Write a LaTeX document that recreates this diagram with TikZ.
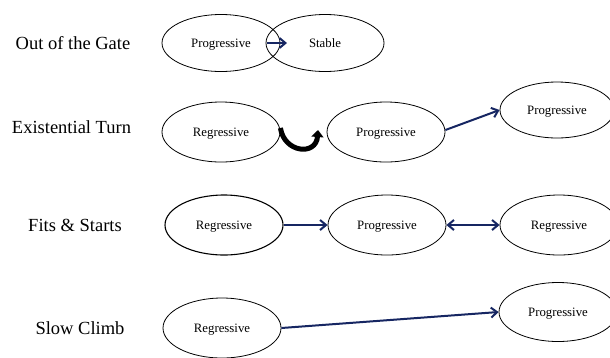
\documentclass[tikz,border=0pt]{standalone}
\usepackage{fontspec}
\setmainfont{Liberation Serif}
\usetikzlibrary{arrows.meta,shapes.geometric}
\definecolor{navy}{RGB}{22,38,98}
\begin{document}
\begin{tikzpicture}[x=1pt,y=-1pt,
  oval/.style={draw=black, line width=0.8pt, ellipse, minimum width=118pt, minimum height=59pt, inner sep=0pt, text depth=0pt, font=\fontsize{12.8}{14}\selectfont},
  rowlabel/.style={font=\fontsize{18.5}{22}\selectfont},
  conn/.style={draw=navy, line width=2pt, -{Straight Barb[length=6pt,width=10pt]}},
  dconn/.style={draw=navy, line width=2pt, {Straight Barb[length=6pt,width=10pt]}-{Straight Barb[length=6pt,width=10pt]}}]
\useasboundingbox (0,0) rectangle (610,357);
\fill[white] (0,0) rectangle (610,357);
% row labels
\node[rowlabel] (l1) at (73,43) {Out of the Gate};
\node[rowlabel] (l2) at (71.5,127) {Existential Turn};
\node[rowlabel] (l3) at (75,225) {Fits \& Starts};
\node[rowlabel] (l4) at (80,328) {Slow Climb};
% row 1
\node[oval, minimum height=57pt] (a1) at (221,43) {Progressive};
\node[oval, minimum height=57pt] (a2) at (325,43) {Stable};
\draw[conn] (267,43) -- (287,43);
% row 2
\node[oval, minimum height=60pt] (b1) at (221,132) {Regressive};
\node[oval, minimum height=60pt] (b2) at (386,132) {Progressive};
\node[oval, minimum width=114pt, minimum height=56pt] (b3) at (557,110) {Progressive};
\draw[line width=5pt, black, -{Triangle[width=12pt,length=7pt]}] (b1.east) ++(0,-4) .. controls +(4,25) and +(-2,26) .. (318,130);
\draw[conn] (b2.east) ++(0,-2) -- (b3.west);
% row 3
\node[oval, line width=1.1pt, minimum height=60pt] (c1) at (224,225) {Regressive};
\node[oval, minimum height=60pt] (c2) at (387,225) {Progressive};
\node[oval, minimum height=60pt] (c3) at (559,225) {Regressive};
\draw[conn] (c1.east) -- (c2.west);
\draw[dconn] (c2.east) -- (c3.west);
% row 4
\node[oval, minimum height=60pt] (d1) at (222,328) {Regressive};
\node[oval, minimum height=59pt] (d2) at (558,312) {Progressive};
\draw[conn] (d1.east) -- (d2.west);
\end{tikzpicture}
\end{document}
